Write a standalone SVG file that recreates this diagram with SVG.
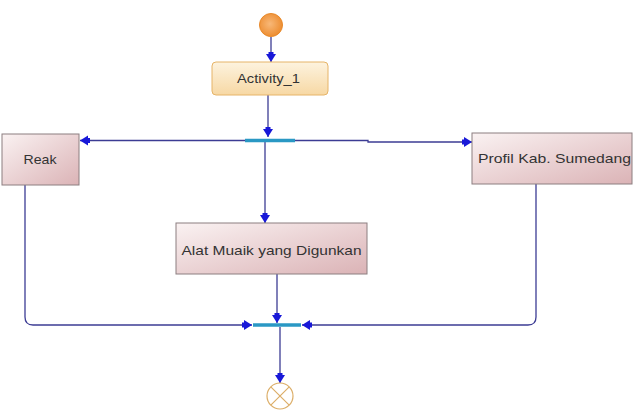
<svg xmlns="http://www.w3.org/2000/svg" width="633" height="418" viewBox="0 0 633 418">
<style>
.box{fill:url(#pink);stroke:#8c7e80;stroke-width:1}
.lbl{font-family:"Liberation Sans",Arial,sans-serif;font-size:13.5px;fill:#333;text-anchor:middle;dominant-baseline:central}
.ln{fill:none;stroke:#3c3c94;stroke-width:1.3}
.bar{stroke:#2a98c4;stroke-width:3.5}
</style>
<defs>
<linearGradient id="pink" x1="0" y1="0" x2="1" y2="1">
<stop offset="0" stop-color="#faf2f2"/>
<stop offset="1" stop-color="#dbb3b6"/>
</linearGradient>
<linearGradient id="orange" x1="0" y1="0" x2="0" y2="1">
<stop offset="0" stop-color="#fdf3df"/>
<stop offset="1" stop-color="#f7d8a4"/>
</linearGradient>
<radialGradient id="ball" cx="0.45" cy="0.45" r="0.6">
<stop offset="0" stop-color="#f8b878"/>
<stop offset="1" stop-color="#ec8a2c"/>
</radialGradient>
<marker id="arr" viewBox="0 0 10 12" refX="10" refY="6" markerWidth="10" markerHeight="12" markerUnits="userSpaceOnUse" orient="auto">
<rect x="0" y="3.5" width="3" height="5" fill="#1818d8"/>
<polygon points="2,1 10,6 2,11" fill="#1818d8"/>
</marker>
</defs>
<g id="connectors">
<path class="ln" d="M271,37 V62" marker-end="url(#arr)"/>
<path class="ln" d="M268,95 V137" marker-end="url(#arr)"/>
<path class="ln" d="M245,140.5 H80" marker-end="url(#arr)"/>
<path class="ln" d="M295,140.5 H368 V142 H472" marker-end="url(#arr)"/>
<path class="ln" d="M265,142 V223" marker-end="url(#arr)"/>
<path class="ln" d="M25,185 V317 Q25,325 33,325 H252" marker-end="url(#arr)"/>
<path class="ln" d="M536,184 V317 Q536,325 528,325 H302" marker-end="url(#arr)"/>
<path class="ln" d="M277,274 V323" marker-end="url(#arr)"/>
<path class="ln" d="M280,327 V383" marker-end="url(#arr)"/>
</g>
<g id="start">
<circle cx="271" cy="25" r="11.5" fill="url(#ball)" stroke="#e8892a" stroke-width="1"/>
</g>
<g id="activity1">
<rect x="212" y="62" width="116" height="33" rx="4" fill="url(#orange)" stroke="#e6b468" stroke-width="1"/>
<text class="lbl" x="268.5" y="78.5" textLength="63" lengthAdjust="spacingAndGlyphs">Activity_1</text>
</g>
<g id="fork">
<line class="bar" x1="245" y1="140.5" x2="295" y2="140.5"/>
</g>
<g id="reak">
<rect class="box" x="2" y="134" width="77" height="51"/>
<text class="lbl" x="40" y="159.5" textLength="33" lengthAdjust="spacingAndGlyphs">Reak</text>
</g>
<g id="profil">
<rect class="box" x="472" y="133" width="160" height="51"/>
<text class="lbl" x="554.5" y="158" textLength="153" lengthAdjust="spacingAndGlyphs">Profil Kab. Sumedang</text>
</g>
<g id="alat">
<rect class="box" x="176" y="223" width="191" height="51"/>
<text class="lbl" x="271.5" y="250" textLength="180" lengthAdjust="spacingAndGlyphs">Alat Muaik yang Digunkan</text>
</g>
<g id="join">
<line class="bar" x1="253" y1="325" x2="301" y2="325"/>
</g>
<g id="end">
<circle cx="280" cy="396" r="13" fill="#fff" stroke="#dcae68" stroke-width="1.2"/>
<path d="M270.8,386.8 L289.2,405.2 M289.2,386.8 L270.8,405.2" stroke="#dcae68" stroke-width="1.2"/>
</g>
</svg>
